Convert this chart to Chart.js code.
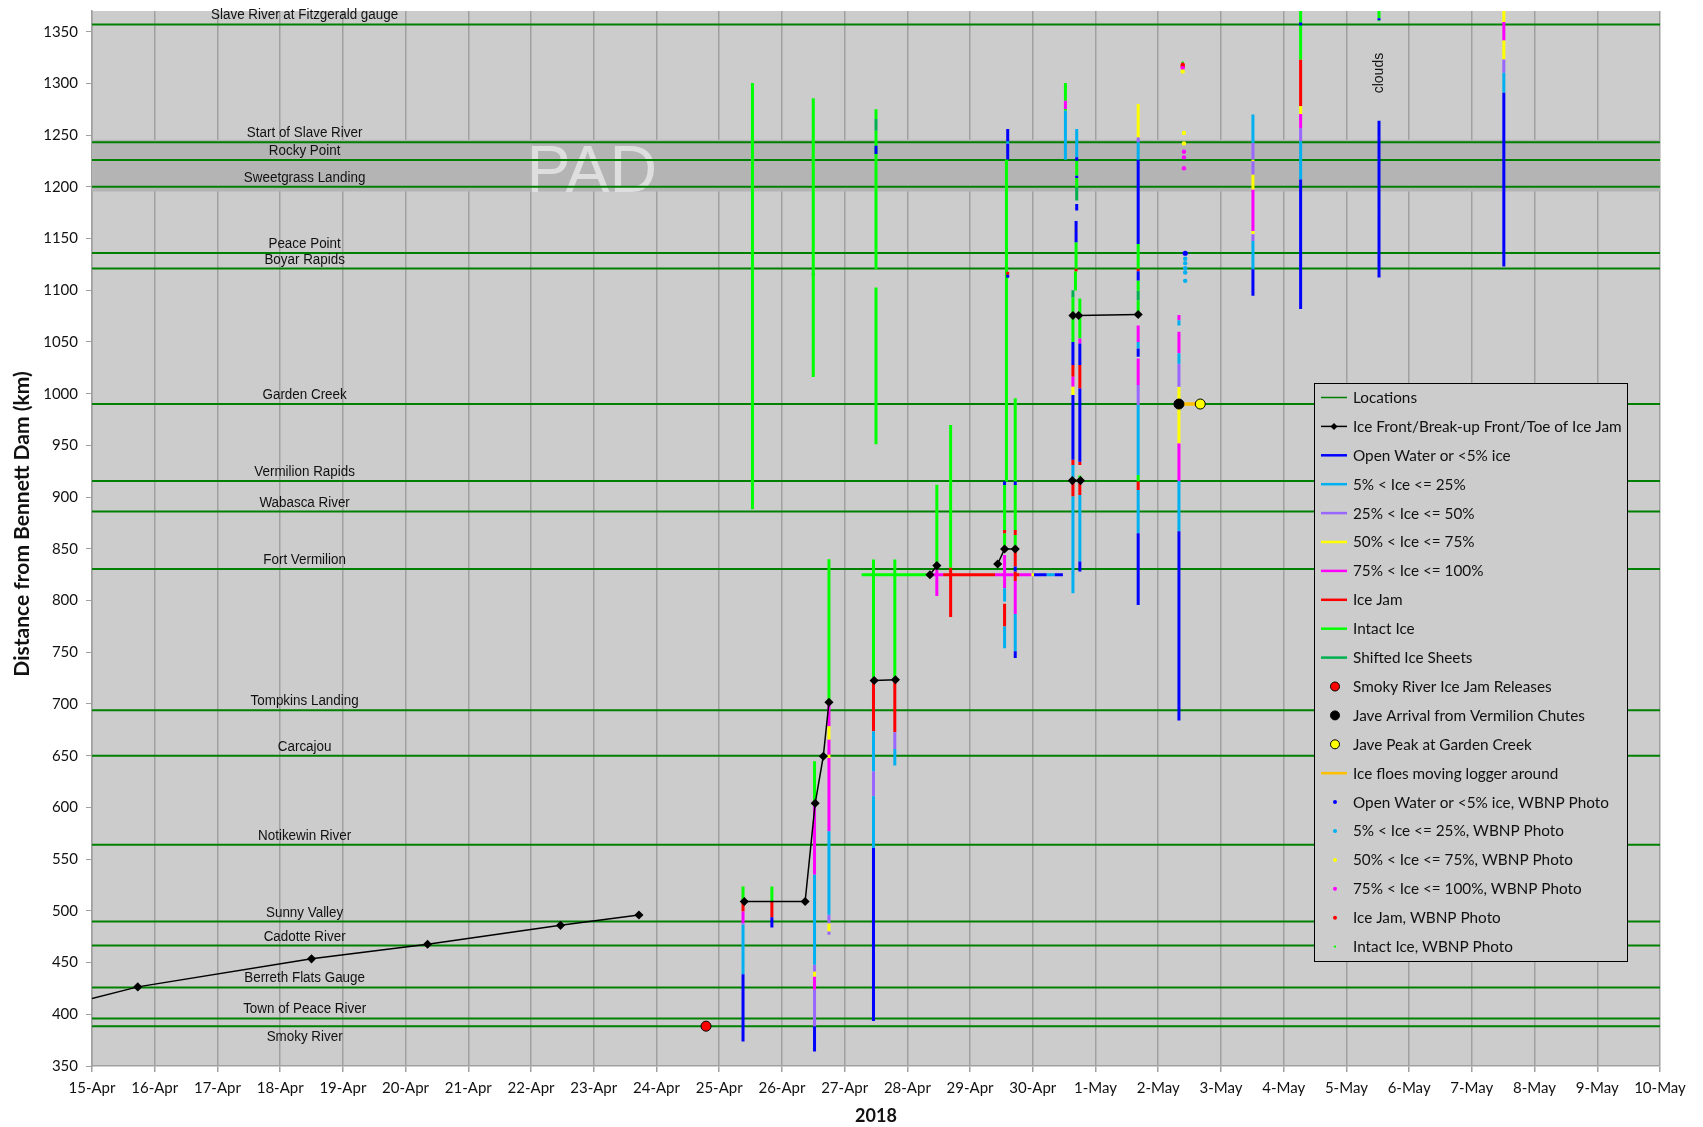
<!DOCTYPE html>
<html>
<head>
<meta charset="utf-8">
<title>Peace River break-up 2018</title>
<script src="https://cdn.jsdelivr.net/npm/chart.js"></script>
<style>
  body { margin: 0; background: #fff; }
  #wrap { width: 1703px; height: 1127px; }
</style>
</head>
<body>
<div id="wrap"><canvas id="chart" width="1703" height="1127"></canvas></div>
<script>
// x = days after 15-Apr-2018 00:00, y = km downstream of Bennett Dam
const dateLabels = ['15-Apr', '16-Apr', '17-Apr', '18-Apr', '19-Apr', '20-Apr', '21-Apr', '22-Apr', '23-Apr',
  '24-Apr', '25-Apr', '26-Apr', '27-Apr', '28-Apr', '29-Apr', '30-Apr', '1-May', '2-May', '3-May', '4-May',
  '5-May', '6-May', '7-May', '8-May', '9-May', '10-May'];

const locationNames = ['Slave River at Fitzgerald gauge', 'Start of Slave River', 'Rocky Point', 'Sweetgrass Landing',
  'Peace Point', 'Boyar Rapids', 'Garden Creek', 'Vermilion Rapids', 'Wabasca River', 'Fort Vermilion',
  'Tompkins Landing', 'Carcajou', 'Notikewin River', 'Sunny Valley', 'Cadotte River', 'Berreth Flats Gauge',
  'Town of Peace River', 'Smoky River'];
const locationKm = [1357, 1243, 1226, 1200, 1136, 1121, 990, 915.6, 886, 830.6, 694, 650, 564, 489.6, 466.5, 426, 396, 388.5];

const padBandKm = [1195.5, 1245.5];

// observation bars, [day, kmFrom, kmTo]
const openWater = [
  [10.38, 373.6, 438.8], [10.84, 483.8, 493.8], [11.52, 364, 388.2], [12.46, 393.6, 560.7],
  [12.50, 1231.7, 1239.8], [14.55, 911.7, 915], [14.60, 1226.5, 1241.6], [14.60, 1244, 1256],
  [14.60, 1112, 1115], [14.72, 911.7, 915], [14.72, 828, 833], [14.72, 744.5, 751],
  [15.70, 1225.3, 1228.5], [15.70, 1208.6, 1210.8], [15.70, 1177, 1183.5], [15.69, 1146.4, 1167],
  [15.64, 1027.7, 1050], [15.64, 936.1, 998.7], [15.75, 1027.7, 1048.6], [15.75, 934.3, 1005.1],
  [15.75, 828, 837.7], [16.68, 1144.8, 1226.3], [16.68, 1109.5, 1118.5], [16.68, 1035.7, 1043.8],
  [16.68, 795.8, 865], [17.33, 684, 867], [18.51, 1094.6, 1120.3], [19.27, 1081.8, 1207.1],
  [19.27, 1356, 1359], [20.52, 1112.3, 1264], [20.52, 1361, 1363], [22.51, 1123, 1291]
];
const ice5to25 = [
  [10.38, 438.8, 486.5], [11.52, 447.8, 534.9], [11.75, 496.2, 576.9], [12.46, 560.7, 610.7],
  [12.46, 635, 673.7], [12.80, 640.5, 656.6], [14.55, 754, 775], [14.55, 799, 812],
  [14.60, 1241.6, 1244], [14.72, 751, 787], [15.52, 1226.3, 1273.6], [15.70, 1228.5, 1255.9],
  [15.64, 918.2, 931], [15.64, 807, 900.5], [15.75, 837.7, 902], [16.68, 1226.3, 1243],
  [16.68, 1044, 1050], [16.68, 921.4, 989], [16.68, 865, 906.9], [17.33, 1066, 1071],
  [17.33, 1029, 1039], [17.33, 867, 915.6], [18.51, 1242.5, 1269.9], [18.51, 1120.3, 1147.7],
  [19.27, 1207.1, 1244.1], [22.51, 1291, 1310.3]
];
const ice25to50 = [
  [10.38, 486.5, 488], [11.52, 388.2, 423.6], [11.52, 441.4, 447.8], [11.75, 476.8, 480.1],
  [11.75, 488.1, 496.2], [12.46, 610.7, 635], [12.80, 656.6, 672.7], [16.68, 1243, 1247.8],
  [16.68, 989, 1008.4], [17.33, 1006.7, 1029], [18.51, 1226.5, 1242.5], [18.51, 1212, 1224.8],
  [18.51, 1147.7, 1154.1], [19.27, 1244.1, 1257], [22.51, 1310.3, 1323.1]
];
const ice50to75 = [
  [11.52, 436.5, 441.4], [11.75, 480.1, 488.1], [11.75, 647.8, 651], [11.75, 665.6, 678.5],
  [15.64, 998.7, 1006.7], [15.69, 1156, 1159], [16.68, 1247.8, 1280], [17.33, 952, 1006.7],
  [18.51, 1224.8, 1226.5], [18.51, 1197.5, 1212], [18.51, 1154.1, 1157.3], [19.27, 1270.5, 1277.9],
  [22.51, 1323.1, 1341.4], [22.51, 1359.4, 1375]
];
const ice75to100 = [
  [10.38, 488, 499.4], [11.52, 423.6, 436.5], [11.52, 534.9, 604], [11.75, 576.9, 647.8],
  [11.75, 651, 665.6], [11.75, 678.5, 701.7], [13.47, 804.3, 830], [14.55, 812, 844],
  [14.72, 787, 819], [15.52, 1275.2, 1283.2], [15.64, 1006.7, 1016.4], [15.75, 1048.6, 1053.4],
  [16.68, 1050, 1066], [16.68, 1008.4, 1034], [17.33, 1071, 1076], [17.33, 1039, 1060],
  [17.33, 915.6, 952], [18.51, 1157.3, 1197.5], [19.27, 1257, 1270.5], [22.51, 1341.4, 1359.4]
];
const iceJam = [
  [10.38, 499.4, 509], [10.84, 493.8, 509], [12.46, 673.7, 722.7], [12.80, 672.7, 723.4],
  [13.69, 784, 831.6], [14.55, 775, 797], [14.55, 865, 868.3], [14.60, 1115, 1118],
  [14.72, 819, 828], [14.72, 833, 847.3], [14.72, 863.4, 868.3], [15.64, 1016.4, 1027.7],
  [15.64, 931, 936.1], [15.64, 900.5, 915], [15.69, 1118.5, 1120.7], [15.75, 1005.1, 1027.7],
  [15.75, 931, 934.3], [15.75, 902, 916], [16.68, 1118.5, 1120.7], [16.68, 906.9, 915],
  [19.27, 1277.9, 1322.9]
];
const intactIce = [
  [10.38, 509, 523.6], [10.53, 888.2, 1300.4], [10.84, 509, 523.6], [11.50, 1016.2, 1285.6],
  [11.52, 604, 644.6], [11.75, 701.7, 840], [12.46, 722.7, 839.6], [12.50, 951.1, 1102.7],
  [12.50, 1120.4, 1254.3], [12.50, 1265.6, 1275], [12.80, 723.4, 839.6], [13.47, 833.8, 911.9],
  [13.69, 831.6, 969.7], [14.55, 849.6, 865], [14.55, 868.3, 911.7], [14.58, 915, 1226.5],
  [14.72, 849.6, 863.4], [14.72, 868.3, 911.7], [14.72, 915, 995.5], [15.52, 1283.2, 1300.3],
  [15.52, 1273.6, 1275.2], [15.70, 1210.8, 1225.3], [15.70, 1199.5, 1208.6], [15.69, 1120.7, 1146.4],
  [15.68, 1099.8, 1118.5], [15.64, 1050, 1093], [15.64, 915, 918.2], [15.75, 1053.4, 1092],
  [15.75, 916, 921], [16.68, 1120.7, 1144.8], [16.68, 1099.8, 1109.5], [16.68, 1076.6, 1090],
  [16.68, 915, 921.4], [19.27, 1322.9, 1375], [20.52, 1363, 1375], [20.52, 1360, 1361]
];
const shiftedIce = [
  [11.50, 1114, 1117], [12.50, 1254.3, 1265.6], [15.70, 1186.7, 1199.5], [15.64, 1093, 1100],
  [16.68, 1090, 1099.8]
];

// ice logger just below Fort Vermilion: [dayFrom, dayTo, category]
const loggerKm = 825;
const loggerRuns = [
  [12.27, 13.36, 'intactIce'], [13.36, 13.57, 'ice75to100'], [13.57, 14.40, 'iceJam'],
  [14.40, 14.69, 'ice75to100'], [14.69, 14.79, 'iceJam'], [14.79, 14.98, 'ice75to100'],
  [14.98, 15.02, 'ice50to75'], [15.02, 15.22, 'openWater'], [15.22, 15.35, 'ice5to25'],
  [15.35, 15.48, 'openWater']
];
const floesRuns = [[17.33, 17.67, 990]];

// ice front / toe of jam, separate traces
const iceFront = [
  [[-1, 400], [0.73, 426.5], [3.5, 453.6], [5.35, 467.7], [7.47, 486], [8.72, 496]],
  [[10.40, 509], [11.37, 509], [11.53, 604], [11.66, 649.5], [11.75, 701.7]],
  [[12.47, 722.7], [12.81, 723.4]],
  [[13.36, 825], [13.47, 833.8]],
  [[14.44, 835.4], [14.55, 849.9], [14.72, 849.9]],
  [[15.63, 916], [15.76, 916]],
  [[15.64, 1075.6], [15.73, 1075.6], [16.68, 1076.6]]
];

const smokyReleases = [[9.79, 388.5]];
const javeArrival = [[17.33, 990]];
const javePeak = [[17.67, 990]];

// WBNP photo points
const photoOpenWater = [[17.43, 1135.8]];
const photo5to25 = [[17.43, 1130.4], [17.43, 1126.2], [17.43, 1121.3], [17.43, 1117.2], [17.43, 1109.1]];
const photo50to75 = [[17.39, 1311.6], [17.41, 1252], [17.41, 1242]];
const photo75to100 = [[17.39, 1314.8], [17.41, 1234], [17.41, 1228.5], [17.41, 1217.9]];
const photoIceJam = [[17.39, 1316.4], [17.39, 1318]];
const photoIntact = [[17.39, 1320.2]];

const cloudsNote = { day: 20.52, km: 1310, text: 'clouds' };

const GAP = { x: null, y: null };

function barPoints(bars, runs, runKm) {
  const pts = [];
  bars.forEach(b => pts.push({ x: b[0], y: b[1] }, { x: b[0], y: b[2] }, GAP));
  runs.forEach(r => pts.push({ x: r[0], y: runKm }, { x: r[1], y: runKm }, GAP));
  return pts;
}
function xy(list) {
  return list.map(p => ({ x: p[0], y: p[1] }));
}
function traces(list) {
  const pts = [];
  list.forEach(t => { t.forEach(p => pts.push({ x: p[0], y: p[1] })); pts.push(GAP); });
  return pts;
}
function logger(cat) {
  return loggerRuns.filter(r => r[2] === cat);
}

const locPts = [];
locationKm.forEach(k => locPts.push({ x: 0, y: k }, { x: 25, y: k }, GAP));

function barSet(label, color, bars, cat) {
  return {
    label, data: barPoints(bars, logger(cat), loggerKm), showLine: true,
    borderColor: color, backgroundColor: color, borderWidth: 3, pointRadius: 0,
    order: 5, legendType: 'line'
  };
}
function dotSet(label, fill, data, r, border) {
  return {
    label, data: xy(data), showLine: false, pointRadius: r,
    pointBackgroundColor: fill, backgroundColor: fill,
    pointBorderColor: border || fill, borderColor: border || fill,
    pointBorderWidth: border ? 1 : 0, order: 0, legendType: 'dot'
  };
}

const datasets = [
  { label: 'Locations', data: locPts, showLine: true, borderColor: '#008000', borderWidth: 2,
    pointRadius: 0, order: 10, legendType: 'line', legendWidth: 1.5 },
  { label: 'Ice Front/Break-up Front/Toe of Ice Jam', data: traces(iceFront), showLine: true,
    borderColor: '#000', borderWidth: 1.5, pointStyle: 'rectRot', pointRadius: 3.5,
    pointBackgroundColor: '#000', pointBorderColor: '#000', order: 1, legendType: 'front' },
  barSet('Open Water or <5% ice', '#0000ff', openWater, 'openWater'),
  barSet('5% < Ice <= 25%', '#00b0f0', ice5to25, 'ice5to25'),
  barSet('25% < Ice <= 50%', '#9966ff', ice25to50, 'ice25to50'),
  barSet('50% < Ice <= 75%', '#ffff00', ice50to75, 'ice50to75'),
  barSet('75% < Ice <= 100%', '#ff00ff', ice75to100, 'ice75to100'),
  barSet('Ice Jam', '#ff0000', iceJam, 'iceJam'),
  barSet('Intact Ice', '#00ff00', intactIce, 'intactIce'),
  barSet('Shifted Ice Sheets', '#00b050', shiftedIce, 'shiftedIce'),
  dotSet('Smoky River Ice Jam Releases', '#ff0000', smokyReleases, 5, '#000'),
  dotSet('Jave Arrival from Vermilion Chutes', '#000', javeArrival, 5, '#000'),
  dotSet('Jave Peak at Garden Creek', '#ffff00', javePeak, 5, '#000'),
  { label: 'Ice floes moving logger around', data: barPoints([], floesRuns.map(r => [r[0], r[1]]), floesRuns[0][2]),
    showLine: true, borderColor: '#ffc000', borderWidth: 3.5, pointRadius: 0, order: 2, legendType: 'line' },
  dotSet('Open Water or <5% ice, WBNP Photo', '#0000ff', photoOpenWater, 2.6),
  dotSet('5% < Ice <= 25%, WBNP Photo', '#00b0f0', photo5to25, 2.2),
  dotSet('50% < Ice <= 75%, WBNP Photo', '#ffff00', photo50to75, 2.2),
  dotSet('75% < Ice <= 100%, WBNP Photo', '#ff00ff', photo75to100, 2.2),
  dotSet('Ice Jam, WBNP Photo', '#ff0000', photoIceJam, 2.2),
  dotSet('Intact Ice, WBNP Photo', '#00ff00', photoIntact, 1.2)
];

const plotBg = {
  id: 'plotBg',
  beforeDraw(chart) {
    const { ctx, chartArea: a } = chart;
    ctx.save();
    ctx.fillStyle = '#cccccc';
    ctx.fillRect(a.left, a.top, a.right - a.left, a.bottom - a.top);
    ctx.restore();
  },
  beforeDatasetsDraw(chart) {
    const { ctx, chartArea: a, scales: { x, y } } = chart;
    const y1 = y.getPixelForValue(padBandKm[1]);
    const y0 = y.getPixelForValue(padBandKm[0]);
    ctx.save();
    ctx.fillStyle = '#b4b4b4';
    ctx.fillRect(a.left, y1, a.right - a.left, y0 - y1);
    ctx.fillStyle = '#dedede';
    ctx.font = '66px "Liberation Sans", Arial, sans-serif';
    ctx.textAlign = 'center';
    ctx.textBaseline = 'alphabetic';
    ctx.fillText('PAD', x.getPixelForValue(7.97), y0 + 1);
    ctx.restore();
  }
};

const labelsPlugin = {
  id: 'locLabels',
  afterDatasetsDraw(chart) {
    const { ctx, scales: { x, y } } = chart;
    const cx = x.getPixelForValue(3.39);
    ctx.save();
    ctx.fillStyle = '#111';
    ctx.font = '15.5px "Liberation Sans", Arial, sans-serif';
    ctx.textAlign = 'center';
    locationNames.forEach((name, i) => {
      const ly = y.getPixelForValue(locationKm[i]);
      const below = i === locationNames.length - 1;
      ctx.save();
      ctx.translate(cx, below ? ly + 15 : ly - 5);
      ctx.scale(0.865, 1);
      ctx.textBaseline = 'alphabetic';
      ctx.fillText(name, 0, 0);
      ctx.restore();
    });
    // note on the 5-May flight
    ctx.save();
    ctx.translate(x.getPixelForValue(cloudsNote.day), y.getPixelForValue(cloudsNote.km));
    ctx.rotate(-Math.PI / 2);
    ctx.font = '14px "Liberation Sans", Arial, sans-serif';
    ctx.textBaseline = 'middle';
    ctx.fillText(cloudsNote.text, 0, 0);
    ctx.restore();
    // y axis title
    ctx.save();
    ctx.translate(22, 524);
    ctx.rotate(-Math.PI / 2);
    ctx.font = 'bold 21px Lato, "Open Sans", sans-serif';
    ctx.textBaseline = 'middle';
    ctx.fillText('Distance from Bennett Dam (km)', 0, 0);
    ctx.restore();
    ctx.restore();
  }
};

const boxLegend = {
  id: 'boxLegend',
  afterDraw(chart) {
    const ctx = chart.ctx;
    const left = 1314, top = 383, w = 313, h = 578, rowH = 28.9;
    ctx.save();
    ctx.fillStyle = '#cccccc';
    ctx.fillRect(left, top, w, h);
    ctx.strokeStyle = '#000';
    ctx.lineWidth = 1;
    ctx.strokeRect(left + 0.5, top + 0.5, w, h);
    ctx.font = '15.3px Lato, "Open Sans", sans-serif';
    ctx.textBaseline = 'middle';
    ctx.textAlign = 'left';
    chart.data.datasets.forEach((ds, i) => {
      const cy = top + 14.5 + i * rowH;
      if (ds.legendType === 'line' || ds.legendType === 'front') {
        ctx.strokeStyle = ds.borderColor;
        ctx.lineWidth = ds.legendWidth || (ds.legendType === 'front' ? 1.5 : 2.5);
        ctx.beginPath();
        ctx.moveTo(left + 7, cy);
        ctx.lineTo(left + 33, cy);
        ctx.stroke();
        if (ds.legendType === 'front') {
          ctx.fillStyle = '#000';
          ctx.beginPath();
          ctx.moveTo(left + 20, cy - 3.5);
          ctx.lineTo(left + 23.5, cy);
          ctx.lineTo(left + 20, cy + 3.5);
          ctx.lineTo(left + 16.5, cy);
          ctx.closePath();
          ctx.fill();
        }
      } else {
        const r = ds.pointRadius > 3 ? 4.5 : Math.min(ds.pointRadius, 2);
        ctx.fillStyle = ds.pointBackgroundColor;
        ctx.beginPath();
        ctx.arc(left + 21, cy, r, 0, Math.PI * 2);
        ctx.fill();
        if (ds.pointBorderWidth) {
          ctx.strokeStyle = ds.pointBorderColor;
          ctx.lineWidth = 1;
          ctx.stroke();
        }
      }
      ctx.fillStyle = '#111';
      ctx.fillText(ds.label, left + 39, cy + 0.5);
    });
    ctx.restore();
  }
};

new Chart(document.getElementById('chart'), {
  type: 'scatter',
  data: { datasets },
  options: {
    responsive: false,
    animation: false,
    events: [],
    spanGaps: false,
    layout: { padding: { top: 11, right: 43, left: 0, bottom: 0 } },
    plugins: { legend: { display: false }, tooltip: { enabled: false } },
    scales: {
      x: {
        type: 'linear', min: 0, max: 25,
        afterFit: s => { s.height = 61; s.paddingLeft = 0; s.paddingRight = 0; },
        ticks: {
          stepSize: 1, autoSkip: false, maxRotation: 0, padding: 7, color: '#111',
          font: { family: 'Lato', size: 15 },
          callback: v => dateLabels[v]
        },
        grid: { color: '#a0a0a0', lineWidth: 1.5, tickLength: 6 },
        border: { color: '#a0a0a0', width: 1.5 },
        title: { display: true, text: '2018', color: '#111', font: { family: 'Lato', size: 18, weight: 'bold' },
          padding: { top: 0, bottom: 0 } }
      },
      y: {
        min: 350, max: 1370,
        afterFit: s => { s.width = 92; s.paddingTop = 0; s.paddingBottom = 0; },
        ticks: {
          stepSize: 50, includeBounds: false, padding: 8, color: '#111',
          font: { family: 'Lato', size: 15 },
          callback: v => String(v)
        },
        grid: { drawOnChartArea: false, color: '#a0a0a0', tickLength: 6 },
        border: { color: '#a0a0a0', width: 1.5 }
      }
    }
  },
  plugins: [plotBg, labelsPlugin, boxLegend]
});
</script>
</body>
</html>
